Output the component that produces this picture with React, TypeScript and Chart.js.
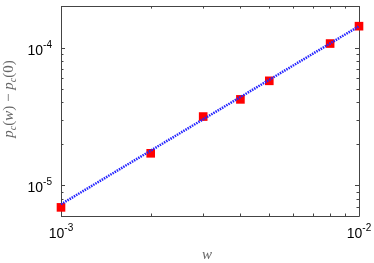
import React, { useEffect, useRef } from "react";
import { Chart, registerables } from "chart.js";

Chart.register(...registerables);

// ---- data ----
const xValues = [0.001, 0.002, 0.003, 0.004, 0.005, 0.008, 0.01];
const yValues = [6.93e-6, 1.71e-5, 3.16e-5, 4.21e-5, 5.74e-5, 1.07e-4, 1.43e-4];
const fitX = [0.001, 0.01];
const fitY = [7.3e-6, 1.43e-4];
const xTickExponents = [-3, -2];
const yTickExponents = [-5, -4];
const xTitle = "w";
const yTitleSegments = [
  { t: "p", italic: true, sub: false },
  { t: "c", italic: true, sub: true },
  { t: "(", italic: false, sub: false },
  { t: "w", italic: true, sub: false },
  { t: ")", italic: false, sub: false },
  { t: " − ", italic: false, sub: false },
  { t: "p", italic: true, sub: false },
  { t: "c", italic: true, sub: true },
  { t: "(0)", italic: false, sub: false },
];
const X_MIN = 1e-3;
const X_MAX = 1e-2;
const Y_MIN = 6.0e-6;
const Y_MAX = 2.0e-4;

const SANS = '"Liberation Sans", Arial, sans-serif';
const SERIF = '"Liberation Serif", "Times New Roman", serif';

function drawPower(ctx: CanvasRenderingContext2D, exp: number, x: number, baseline: number, align: "right" | "center") {
  const baseFont = `14px ${SANS}`;
  const expFont = `10px ${SANS}`;
  ctx.font = baseFont;
  const wb = ctx.measureText("10").width;
  ctx.font = expFont;
  const es = String(exp);
  const we = ctx.measureText(es).width;
  const total = wb + we;
  const left = align === "right" ? x - total : x - total / 2;
  ctx.textAlign = "left";
  ctx.textBaseline = "alphabetic";
  ctx.fillStyle = "#000";
  ctx.font = baseFont;
  ctx.fillText("10", left, baseline);
  ctx.font = expFont;
  ctx.fillText(es, left + wb, baseline - 7);
}

const framePlugin = {
  id: "frameTicks",
  beforeDatasetsDraw(chart: any) {
    const { ctx, chartArea } = chart;
    const xs = chart.scales.x;
    const ys = chart.scales.y;
    const { left, right, top, bottom } = chartArea;
    ctx.save();
    ctx.strokeStyle = "#444";
    ctx.lineWidth = 1;
    ctx.beginPath();
    ctx.rect(Math.round(left) + 0.5, Math.round(top) + 0.5, Math.round(right - left), Math.round(bottom - top));
    ctx.stroke();

    const majorLen = 4;
    const minorLen = 2.5;
    ctx.beginPath();
    for (let e = -3; e <= -2; e++) {
      for (let k = 1; k <= 9; k++) {
        const v = k * Math.pow(10, e);
        if (v < X_MIN * 0.999 || v > X_MAX * 1.001) continue;
        const px = Math.round(xs.getPixelForValue(v)) + 0.5;
        const len = k === 1 ? majorLen : minorLen;
        ctx.moveTo(px, bottom);
        ctx.lineTo(px, bottom - len);
        ctx.moveTo(px, top);
        ctx.lineTo(px, top + len);
      }
    }
    for (let e = -6; e <= -4; e++) {
      for (let k = 1; k <= 9; k++) {
        const v = k * Math.pow(10, e);
        if (v < Y_MIN * 0.999 || v > Y_MAX * 1.001) continue;
        const py = Math.round(ys.getPixelForValue(v)) + 0.5;
        const len = k === 1 ? majorLen : minorLen;
        ctx.moveTo(left, py);
        ctx.lineTo(left + len, py);
        ctx.moveTo(right, py);
        ctx.lineTo(right - len, py);
      }
    }
    ctx.stroke();

    xTickExponents.forEach((e) => {
      const px = xs.getPixelForValue(Math.pow(10, e));
      drawPower(ctx, e, px, bottom + 22, "center");
    });
    yTickExponents.forEach((e) => {
      const py = ys.getPixelForValue(Math.pow(10, e));
      drawPower(ctx, e, left - 9, py + 7, "right");
    });

    ctx.fillStyle = "#666";
    ctx.font = `italic 15px ${SERIF}`;
    ctx.textAlign = "center";
    ctx.textBaseline = "alphabetic";
    ctx.fillText(xTitle, (left + right) / 2 - 3, 259);

    ctx.translate(12.5, 99);
    ctx.rotate(-Math.PI / 2);
    const fontFor = (s: any) => `${s.italic ? "italic " : ""}${s.sub ? 10 : 15}px ${SERIF}`;
    let total = 0;
    yTitleSegments.forEach((s) => {
      ctx.font = fontFor(s);
      total += ctx.measureText(s.t).width;
    });
    let cx = -total / 2;
    ctx.textAlign = "left";
    yTitleSegments.forEach((s) => {
      ctx.font = fontFor(s);
      ctx.fillText(s.t, cx, s.sub ? 3 : 0);
      cx += ctx.measureText(s.t).width;
    });
    ctx.restore();
  },
};

export default function App() {
  const canvasRef = useRef<HTMLCanvasElement | null>(null);

  useEffect(() => {
    if (!canvasRef.current) return;
    const chart = new Chart(canvasRef.current, {
      type: "scatter",
      data: {
        datasets: [
          {
            label: "fit",
            data: fitX.map((x, i) => ({ x, y: fitY[i] })),
            showLine: true,
            borderColor: "#2424ff",
            borderWidth: 2.5,
            borderDash: [1.5, 1],
            pointRadius: 0,
            fill: false,
            order: 0,
            clip: false,
          } as any,
          {
            label: "data",
            data: xValues.map((x, i) => ({ x, y: yValues[i] })),
            showLine: false,
            pointStyle: "rect",
            pointRadius: 6.1,
            pointHoverRadius: 6.1,
            backgroundColor: "#ff0000",
            borderColor: "#ff0000",
            borderWidth: 0,
            order: 1,
            clip: false,
          } as any,
        ],
      },
      options: {
        responsive: false,
        animation: false,
        events: [],
        layout: { padding: { left: 61, right: 15, top: 5, bottom: 47 } },
        plugins: { legend: { display: false }, tooltip: { enabled: false } },
        scales: {
          x: { type: "logarithmic", min: X_MIN, max: X_MAX, display: false },
          y: { type: "logarithmic", min: Y_MIN, max: Y_MAX, display: false },
        },
      },
      plugins: [framePlugin],
    });
    return () => chart.destroy();
  }, []);

  return (
    <div style={{ position: "absolute", left: 0, top: 0, width: 374, height: 263, background: "#fff" }}>
      <canvas ref={canvasRef} width={374} height={263} style={{ display: "block" }} />
    </div>
  );
}
